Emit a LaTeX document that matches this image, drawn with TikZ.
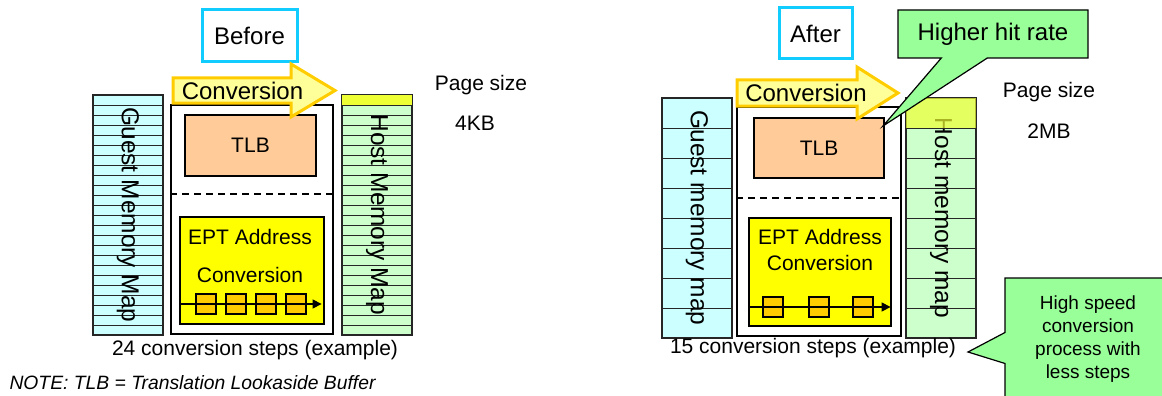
\documentclass[tikz,border=0pt]{standalone}
\usepackage{fontspec}
\setmainfont{Liberation Sans}
\usetikzlibrary{arrows.meta,shapes.callouts}

\definecolor{guestcyan}{HTML}{CCFFFF}
\definecolor{hostgreen}{HTML}{CCFFCC}
\definecolor{topyellow}{HTML}{EEFF33}
\definecolor{tlbpeach}{HTML}{FFCC99}
\definecolor{eptyellow}{HTML}{FFFF00}
\definecolor{stepgold}{HTML}{FFCC00}
\definecolor{arrowfill}{HTML}{FFFF99}
\definecolor{labelcyan}{HTML}{11CCFF}
\definecolor{calloutgreen}{HTML}{99FF99}

\begin{document}
\begin{tikzpicture}[x=1pt, y=-1pt,
    box/.style={draw, line width=1.2pt, inner sep=0pt},
    memmap/.style={box, draw=black!85, minimum width=70pt, minimum height=240pt},
    maplabel/.style={rotate=-90, font=\fontsize{24.5}{28}\selectfont},
    stripe/.style={draw=black!85, line width=1pt},
    tag/.style={draw=labelcyan, line width=3pt, fill=white, inner sep=0pt,
                font=\fontsize{24}{28}\selectfont},
    convarrow/.style={draw=stepgold, line width=3pt, fill=arrowfill, line join=miter},
    convtext/.style={font=\fontsize{24}{28}\selectfont},
    steptile/.style={box, fill=stepgold, minimum size=20pt},
    flow/.style={-{Triangle[length=9pt,width=9pt]}, line width=1.2pt},
    txt/.style={font=\fontsize{21}{25}\selectfont},
    bubble/.style={rectangle callout, draw, line width=1.2pt, fill=calloutgreen,
                   inner sep=0pt, align=center}
]
    \clip (0,0) rectangle (1162,396);

    % before
    \node[tag, minimum width=95pt, minimum height=52pt] (before) at (249.5,36) {Before};

    \node[memmap, fill=guestcyan] (guestL) at (128,215) {};
    \foreach \y in {105,115,...,325}
        \draw[stripe] (guestL.west |- 0,\y) -- (guestL.east |- 0,\y);
    \node[maplabel] (guestLlabel) at (guestL.center) {Guest Memory Map};

    \node[memmap, fill=hostgreen] (hostL) at (377,215) {};
    \foreach \y in {105,115,...,325}
        \draw[stripe] (hostL.west |- 0,\y) -- (hostL.east |- 0,\y);
    \node[maplabel] (hostLlabel) at (hostL.center) {Host Memory Map};
    \filldraw[stripe, fill=topyellow] (hostL.north west) rectangle (hostL.east |- 0,105);

    \node[box, fill=white, minimum width=162pt, minimum height=229pt] (unitL) at (252,219.5) {};
    \node[box, fill=tlbpeach, minimum width=131pt, minimum height=61pt, txt] (tlbL) at (250.5,145.5) {TLB};
    \draw[line width=1.2pt, dash pattern=on 7pt off 5pt] (unitL.west |- 0,194) -- (unitL.east |- 0,194);
    \node[box, fill=eptyellow, minimum width=144pt, minimum height=107pt] (eptL) at (252,270.5) {};
    \node[font=\fontsize{21}{38}\selectfont, align=center] (eptLtext) at (250,256) {EPT Address\\Conversion};
    \node[steptile] (stepL1) at (206,304) {};
    \node[steptile] (stepL2) at (236,304) {};
    \node[steptile] (stepL3) at (266,304) {};
    \node[steptile] (stepL4) at (296,304) {};
    \draw[flow, shorten >=3pt] (eptL.west |- stepL1) -- (eptL.east |- stepL1);

    \draw[convarrow] (173,78) -- (291,78) -- (291,64) -- (335,90.5) -- (291,117) -- (291,103) -- (173,103) -- cycle;
    \node[convtext] (convL) at (242.5,91) {Conversion};

    \node[txt] (pageL) at (481,85) {Page size};
    \node[txt] (sizeL) at (475,123) {4KB};
    \node[txt] (stepsL) at (255,350) {24 conversion steps (example)};
    \node[anchor=west, font=\fontsize{19.3}{22}\itshape] (note) at (6,383) {NOTE: TLB = Translation Lookaside Buffer};

    % after
    \node[tag, minimum width=73pt, minimum height=51pt] (after) at (815.5,33.5) {After};

    \node[memmap, fill=guestcyan] (guestR) at (697,218) {};
    \foreach \y in {128,158,...,308}
        \draw[stripe] (guestR.west |- 0,\y) -- (guestR.east |- 0,\y);
    \node[maplabel] (guestRlabel) at (guestR.center) {Guest memory map};

    \node[memmap, fill=hostgreen] (hostR) at (941,218) {};
    \foreach \y in {128,158,...,308}
        \draw[stripe] (hostR.west |- 0,\y) -- (hostR.east |- 0,\y);
    \node[maplabel] (hostRlabel) at (hostR.center) {Host memory map};
    \filldraw[stripe, fill=topyellow, fill opacity=.7] (hostR.north west) rectangle (hostR.east |- 0,128);

    \node[box, fill=white, minimum width=164pt, minimum height=229pt] (unitR) at (819,221.5) {};
    \node[box, fill=tlbpeach, minimum width=130pt, minimum height=60pt, txt] (tlbR) at (819,148) {TLB};
    \draw[line width=1.2pt, dash pattern=on 7pt off 5pt] (unitR.west |- 0,198) -- (unitR.east |- 0,198);
    \node[box, fill=eptyellow, minimum width=142pt, minimum height=108pt] (eptR) at (820,272) {};
    \node[font=\fontsize{21}{26}\selectfont, align=center] (eptRtext) at (820,250) {EPT Address\\Conversion};
    \node[steptile] (stepR1) at (773,307) {};
    \node[steptile] (stepR2) at (819,307) {};
    \node[steptile] (stepR3) at (863,307) {};
    \draw[flow, shorten >=1pt] (eptR.west |- stepR1) -- (eptR.east |- stepR1);

    \draw[convarrow] (737,80) -- (857,80) -- (857,67) -- (898,93) -- (857,119) -- (857,106) -- (737,106) -- cycle;
    \node[convtext] (convR) at (806,93) {Conversion};

    \node[txt] (pageR) at (1049,92) {Page size};
    \node[txt] (sizeR) at (1049,131) {2MB};
    \node[txt] (stepsR) at (813,348) {15 conversion steps (example)};

    \node[bubble, minimum width=190pt, minimum height=48pt, callout pointer width=46pt,
          callout absolute pointer={(883,126)}, font=\fontsize{24}{28}\selectfont] (hitrate) at (993,34) {Higher hit rate};
    \node[bubble, minimum width=166pt, minimum height=122pt, callout pointer width=31pt,
          callout absolute pointer={(968,352)}, font=\fontsize{19}{23}\selectfont] (speed) at (1088,339)
          {High speed\\conversion\\process with\\less steps};
\end{tikzpicture}
\end{document}
